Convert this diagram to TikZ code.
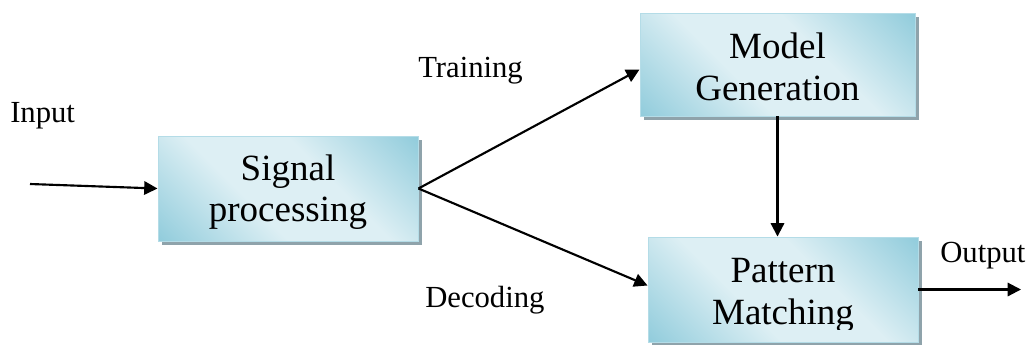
\documentclass[tikz,border=0pt]{standalone}
\usepackage{fontspec}
\setmainfont{Liberation Serif}
\usetikzlibrary{arrows.meta,calc}
\definecolor{boxdark}{HTML}{8FCBDB}
\definecolor{boxlight}{HTML}{DDEFF4}
\definecolor{boxedge}{HTML}{B4DCE7}
\definecolor{shadowgray}{HTML}{8FA3AB}
\pgfdeclarehorizontalshading{boxshade}{100bp}{color(0bp)=(boxdark); color(14bp)=(boxdark); color(40bp)=(boxlight); color(60bp)=(boxlight); color(86bp)=(boxdark); color(100bp)=(boxdark)}
\tikzset{
  blockbox/.style={rectangle, draw=boxedge, line width=0.7pt,
    shading=boxshade, shading angle=45,
    preaction={fill=shadowgray, transform canvas={xshift=3pt,yshift=-3pt}},
    inner sep=0pt},
  boxtext/.style={align=center, font=\fontsize{27.75}{31.2}\selectfont, inner sep=0pt},
  labeltext/.style={font=\fontsize{23}{26}\selectfont, inner sep=0pt, anchor=base west},
  flow/.style={line width=1.6pt, -{Triangle[length=10pt,width=10pt]}}
}
\begin{document}
\begin{tikzpicture}[x=0.75pt,y=-0.75pt]
\useasboundingbox (0,0) rectangle (1031,344);
% boxes
\node[blockbox, minimum width=260*0.75pt, minimum height=105*0.75pt] (sp) at (288,188.5) {};
\node[blockbox, minimum width=275*0.75pt, minimum height=103*0.75pt] (mg) at (777.5,64.5) {};
\node[blockbox, minimum width=270*0.75pt, minimum height=105*0.75pt] (pm) at (783,289.5) {};
% box texts
\node[boxtext] (sptext) at ($(sp.center)+(0,3.5)$) {Signal\\processing};
\node[boxtext] (mgtext) at ($(mg.center)+(0,2.5)$) {Model\\Generation};
\begin{scope}
  \clip (pm.north west) rectangle ($(pm.east)+(0,40)$);
  \node[boxtext] (pmtext) at ($(pm.center)+(0,6)$) {Pattern\\Matching};
\end{scope}
% labels
\node[labeltext] (inlabel) at (10,122) {Input};
\node[labeltext] (trlabel) at (418,77) {Training};
\node[labeltext] (delabel) at (425,307) {Decoding};
\node[labeltext] (outlabel) at (940,262) {Output};
% connectors
\coordinate (in) at (30,184);
\coordinate (out) at (1021,289.5);
\draw[flow] (in) -- (sp.west);
\draw[flow] (sp.east) -- ($(mg.west)+(0,5)$);
\draw[flow] (sp.east) -- ($(pm.west)+(0,-4)$);
\draw[flow] (mg.south) -- (mg.south |- pm.north);
\draw[flow] (pm.east) -- (out);
\end{tikzpicture}
\end{document}
